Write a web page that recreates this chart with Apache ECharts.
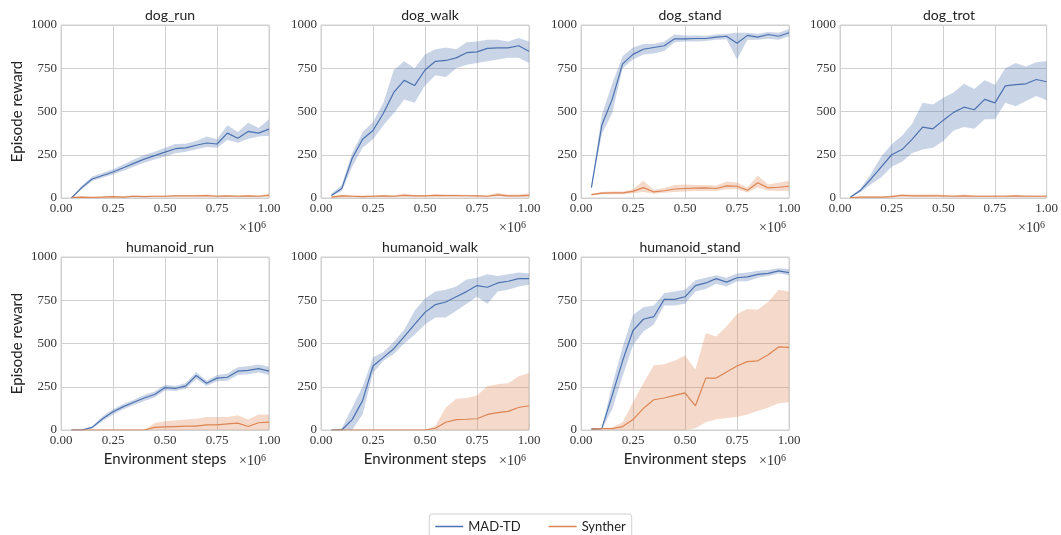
<!DOCTYPE html>
<html>
<head>
<meta charset="utf-8">
<script src="https://cdn.jsdelivr.net/npm/echarts@6/dist/echarts.min.js"></script>
<style>
  html, body { margin: 0; padding: 0; background: #fff; }
  #chart_id { width: 1061px; height: 535px; }
</style>
</head>
<body>
<div id="chart_id"></div>
<script>
// environment steps (x 1e6)
const steps = [0.05, 0.10, 0.15, 0.20, 0.25, 0.30, 0.35, 0.40, 0.45, 0.50,
               0.55, 0.60, 0.65, 0.70, 0.75, 0.80, 0.85, 0.90, 0.95, 1.00];

// dog_run
const dogRunMad   = [0, 60, 110, 130, 150, 175, 200, 225, 245, 265, 285, 290, 305, 318, 312, 375, 345, 385, 375, 398];
const dogRunMadLo = [0, 50, 98, 118, 136, 158, 180, 204, 222, 240, 258, 268, 282, 295, 290, 335, 320, 342, 355, 360];
const dogRunMadHi = [0, 72, 124, 144, 166, 194, 222, 248, 268, 290, 312, 314, 330, 355, 340, 420, 382, 435, 405, 455];
const dogRunSyn   = [3, 5, 3, 5, 8, 5, 10, 8, 10, 10, 12, 12, 12, 14, 10, 12, 10, 12, 10, 15];
const dogRunSynLo = [0, 1, 0, 1, 3, 1, 5, 4, 5, 5, 7, 7, 7, 8, 5, 7, 5, 7, 5, 8];
const dogRunSynHi = [7, 10, 8, 10, 13, 10, 16, 13, 15, 15, 18, 18, 17, 20, 16, 18, 16, 18, 15, 24];

// dog_walk
const dogWalkMad   = [15, 55, 230, 340, 390, 490, 610, 680, 650, 740, 790, 795, 810, 840, 845, 865, 868, 868, 880, 848];
const dogWalkMadLo = [10, 40, 180, 290, 340, 420, 490, 570, 550, 650, 710, 700, 750, 770, 780, 790, 800, 810, 810, 780];
const dogWalkMadHi = [25, 75, 260, 380, 440, 550, 740, 790, 750, 830, 860, 870, 860, 900, 905, 915, 915, 905, 925, 905];
const dogWalkSyn   = [5, 12, 10, 8, 10, 12, 10, 15, 12, 12, 15, 14, 14, 13, 12, 10, 18, 12, 12, 15];
const dogWalkSynLo = [0, 5, 4, 3, 5, 6, 5, 8, 6, 7, 9, 8, 8, 7, 6, 5, 8, 6, 6, 7];
const dogWalkSynHi = [10, 20, 16, 14, 16, 18, 16, 25, 18, 18, 22, 20, 20, 19, 18, 16, 30, 20, 20, 28];

// dog_stand
const dogStandMad   = [60, 420, 570, 775, 830, 860, 870, 880, 920, 920, 922, 922, 930, 935, 895, 940, 930, 945, 935, 955];
const dogStandMadLo = [55, 370, 490, 750, 800, 830, 835, 850, 900, 905, 905, 908, 915, 918, 800, 915, 915, 920, 915, 935];
const dogStandMadHi = [65, 480, 660, 820, 870, 890, 890, 905, 945, 940, 940, 938, 945, 950, 955, 955, 950, 960, 955, 975];
const dogStandSyn   = [20, 28, 30, 30, 38, 60, 35, 42, 52, 55, 57, 58, 55, 70, 68, 45, 88, 58, 62, 68];
const dogStandSynLo = [15, 20, 22, 22, 28, 35, 25, 30, 35, 38, 40, 40, 40, 50, 50, 32, 60, 42, 40, 42];
const dogStandSynHi = [25, 35, 38, 38, 50, 100, 48, 58, 75, 78, 75, 75, 72, 95, 90, 60, 130, 78, 88, 100];

// dog_trot
const dogTrotMad   = [5, 45, 110, 180, 250, 280, 340, 410, 400, 450, 495, 525, 510, 570, 550, 648, 655, 660, 685, 672];
const dogTrotMadLo = [3, 35, 80, 120, 180, 210, 260, 280, 290, 330, 390, 410, 400, 455, 455, 550, 530, 560, 590, 565];
const dogTrotMadHi = [8, 55, 140, 240, 310, 360, 430, 550, 540, 580, 610, 660, 630, 680, 655, 750, 780, 760, 785, 790];
const dogTrotSyn   = [3, 5, 5, 5, 8, 15, 12, 12, 12, 12, 10, 12, 10, 10, 10, 10, 12, 10, 10, 10];
const dogTrotSynLo = [0, 1, 1, 1, 3, 8, 6, 6, 6, 6, 5, 6, 5, 5, 5, 5, 6, 5, 5, 5];
const dogTrotSynHi = [6, 9, 9, 9, 14, 22, 20, 20, 22, 18, 16, 20, 16, 16, 16, 16, 18, 16, 16, 16];

// humanoid_run
const humRunMad   = [0, 0, 15, 65, 105, 135, 160, 185, 205, 245, 240, 255, 315, 270, 300, 305, 340, 345, 355, 340];
const humRunMadLo = [0, 0, 8, 52, 90, 120, 145, 168, 188, 228, 225, 238, 295, 255, 282, 285, 318, 322, 332, 318];
const humRunMadHi = [0, 2, 22, 80, 120, 150, 175, 202, 222, 262, 255, 272, 335, 285, 318, 325, 362, 368, 378, 365];
const humRunSyn   = [0, 0, 0, 0, 0, 0, 0, 0, 15, 18, 20, 22, 22, 30, 30, 35, 40, 20, 42, 45];
const humRunSynLo = [0, 0, 0, 0, 0, 0, 0, 0, 0, 0, 0, 0, 0, 0, 0, 0, 0, 0, 0, 0];
const humRunSynHi = [0, 0, 0, 0, 0, 0, 0, 0, 40, 50, 55, 60, 65, 75, 75, 75, 85, 60, 90, 90];

// humanoid_walk
const humWalkMad   = [0, 0, 60, 170, 370, 420, 470, 540, 610, 680, 725, 740, 770, 800, 835, 825, 850, 860, 875, 875];
const humWalkMadLo = [0, 0, 0, 90, 330, 400, 440, 500, 550, 610, 650, 650, 690, 730, 770, 730, 800, 810, 830, 840];
const humWalkMadHi = [0, 10, 130, 250, 420, 450, 510, 580, 690, 760, 800, 810, 830, 870, 880, 900, 890, 900, 910, 905];
const humWalkSyn   = [0, 0, 0, 0, 0, 0, 0, 0, 0, 0, 10, 45, 60, 62, 65, 90, 100, 108, 130, 140];
const humWalkSynLo = [0, 0, 0, 0, 0, 0, 0, 0, 0, 0, 0, 0, 0, 0, 0, 0, 0, 0, 0, 0];
const humWalkSynHi = [0, 0, 0, 0, 0, 0, 0, 0, 0, 0, 25, 130, 180, 185, 200, 255, 265, 270, 310, 330];

// humanoid_stand
const humStandMad   = [5, 8, 200, 400, 575, 640, 655, 755, 755, 770, 835, 850, 875, 855, 880, 885, 900, 905, 920, 910];
const humStandMadLo = [3, 5, 120, 310, 490, 570, 610, 720, 720, 730, 800, 815, 845, 830, 860, 860, 880, 890, 905, 895];
const humStandMadHi = [8, 12, 260, 480, 665, 710, 720, 790, 800, 810, 865, 880, 895, 880, 905, 910, 920, 925, 935, 930];
const humStandSyn   = [5, 8, 8, 20, 60, 125, 175, 185, 200, 215, 140, 300, 300, 335, 370, 395, 400, 435, 480, 478];
const humStandSynLo = [2, 4, 2, 0, 0, 0, 0, 0, 0, 0, 10, 45, 60, 70, 75, 90, 110, 130, 155, 160];
const humStandSynHi = [8, 12, 15, 45, 160, 270, 375, 380, 400, 430, 350, 560, 540, 600, 670, 700, 695, 740, 810, 800];

const panels = [
  { title: 'dog_run', mad: [dogRunMad, dogRunMadLo, dogRunMadHi], syn: [dogRunSyn, dogRunSynLo, dogRunSynHi] },
  { title: 'dog_walk', mad: [dogWalkMad, dogWalkMadLo, dogWalkMadHi], syn: [dogWalkSyn, dogWalkSynLo, dogWalkSynHi] },
  { title: 'dog_stand', mad: [dogStandMad, dogStandMadLo, dogStandMadHi], syn: [dogStandSyn, dogStandSynLo, dogStandSynHi] },
  { title: 'dog_trot', mad: [dogTrotMad, dogTrotMadLo, dogTrotMadHi], syn: [dogTrotSyn, dogTrotSynLo, dogTrotSynHi] },
  { title: 'humanoid_run', mad: [humRunMad, humRunMadLo, humRunMadHi], syn: [humRunSyn, humRunSynLo, humRunSynHi] },
  { title: 'humanoid_walk', mad: [humWalkMad, humWalkMadLo, humWalkMadHi], syn: [humWalkSyn, humWalkSynLo, humWalkSynHi] },
  { title: 'humanoid_stand', mad: [humStandMad, humStandMadLo, humStandMadHi], syn: [humStandSyn, humStandSynLo, humStandSynHi] },
];

const BLUE = '#4c72b0';
const ORANGE = '#dd8452';
const SANS = 'Lato';
const SERIF = 'Liberation Serif';

const lefts = [61, 321, 581, 840];
const tops = [25, 257];
const W = 208, H = 173;

const grid = [], xAxis = [], yAxis = [], series = [], title = [], graphic = [];

// shaded band drawn as one polygon through the axis scales
function band(lo, hi, fill) {
  return function (params, api) {
    if (params.dataIndex !== 0) return null;
    const pts = [];
    for (let i = 0; i < steps.length; i++) pts.push(api.coord([steps[i], hi[i]]));
    for (let i = steps.length - 1; i >= 0; i--) pts.push(api.coord([steps[i], lo[i]]));
    return { type: 'polygon', silent: true, shape: { points: pts }, style: { fill: fill } };
  };
}

panels.forEach((p, k) => {
  const row = k < 4 ? 0 : 1;
  const col = k % 4;
  const left = lefts[col], top = tops[row];
  grid.push({ left: left, top: top, width: W, height: H, show: true, borderColor: '#d0d0d0', borderWidth: 1, backgroundColor: '#fff' });
  title.push({
    text: p.title, left: left + W / 2, top: top - 22, textAlign: 'center',
    textStyle: { fontFamily: SANS, fontSize: 14, fontWeight: 'normal', color: '#222' },
  });
  xAxis.push({
    gridIndex: k, type: 'value', min: 0, max: 1, interval: 0.25,
    name: row === 1 ? 'Environment steps' : '', nameLocation: 'middle', nameGap: 22,
    nameTextStyle: { fontFamily: SANS, fontSize: 15, color: '#222' },
    axisLine: { show: false }, axisTick: { show: false },
    axisLabel: { fontFamily: SERIF, fontSize: 13, color: '#333', margin: 4, formatter: v => v.toFixed(2) },
    splitLine: { lineStyle: { color: '#d0d0d0', width: 1 } },
  });
  yAxis.push({
    gridIndex: k, type: 'value', min: 0, max: 1000, interval: 250,
    name: col === 0 ? 'Episode reward' : '', nameLocation: 'middle', nameGap: 36,
    nameTextStyle: { fontFamily: SANS, fontSize: 15, color: '#222' },
    axisLine: { show: false }, axisTick: { show: false },
    axisLabel: { fontFamily: SERIF, fontSize: 13, color: '#333', margin: 4, formatter: v => String(v) },
    splitLine: { lineStyle: { color: '#d0d0d0', width: 1 } },
  });
  graphic.push({
    type: 'text', right: 1061 - (left + W) + 3, top: top + H + (row === 1 ? 23 : 22),
    style: {
      text: '{b|×10}{s|6}', fontFamily: SERIF, fontSize: 14, fill: '#333',
      rich: {
        b: { fontFamily: SERIF, fontSize: 14, fill: '#333' },
        s: { fontFamily: SERIF, fontSize: 10, fill: '#333', verticalAlign: 'top', padding: [0, 0, 6, 0] },
      },
    },
  });
  const d = steps.map(x => [x]);
  series.push(
    { type: 'custom', xAxisIndex: k, yAxisIndex: k, data: d, renderItem: band(p.mad[1], p.mad[2], 'rgba(76,114,176,0.3)'), silent: true, z: 1 },
    { type: 'custom', xAxisIndex: k, yAxisIndex: k, data: d, renderItem: band(p.syn[1], p.syn[2], 'rgba(221,132,82,0.3)'), silent: true, z: 1 },
    { name: 'MAD-TD', type: 'line', xAxisIndex: k, yAxisIndex: k, showSymbol: false, z: 3,
      data: steps.map((x, i) => [x, p.mad[0][i]]), lineStyle: { color: BLUE, width: 1.2 }, itemStyle: { color: BLUE } },
    { name: 'Synther', type: 'line', xAxisIndex: k, yAxisIndex: k, showSymbol: false, z: 3,
      data: steps.map((x, i) => [x, p.syn[0][i]]), lineStyle: { color: ORANGE, width: 1.2 }, itemStyle: { color: ORANGE } },
  );
});

const myChart = echarts.init(document.getElementById('chart_id'));
myChart.setOption({
  animation: false,
  backgroundColor: '#fff',
  title: title,
  grid: grid,
  xAxis: xAxis,
  yAxis: yAxis,
  graphic: graphic,
  legend: {
    data: ['MAD-TD', 'Synther'], left: 'center', top: 514,
    icon: 'rect', itemWidth: 28, itemHeight: 1.5, itemGap: 28,
    borderColor: '#d0d0d0', borderWidth: 1, borderRadius: 3, padding: [6, 6, 6, 6],
    textStyle: { fontFamily: SANS, fontSize: 13, color: '#222' },
  },
  series: series,
});
</script>
</body>
</html>
